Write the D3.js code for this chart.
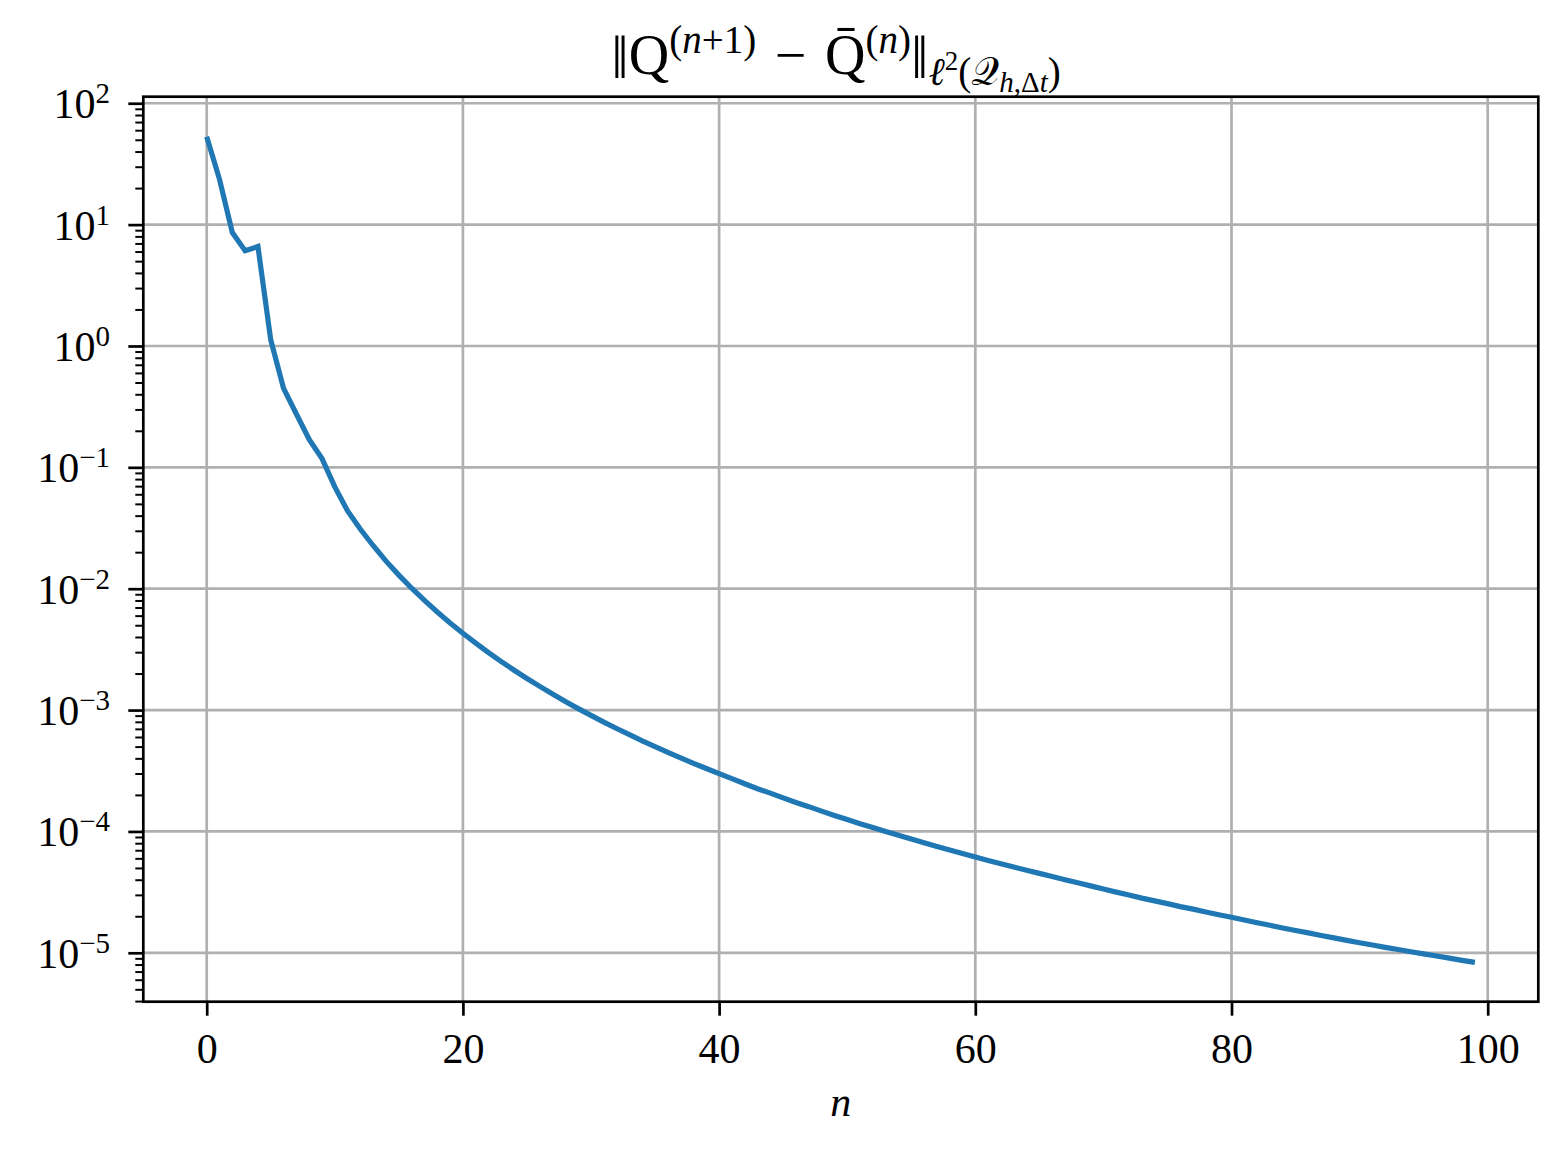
<!DOCTYPE html>
<html>
<head>
<meta charset="utf-8">
<script src="https://cdn.jsdelivr.net/npm/d3@7"></script>
<style>
  html, body { margin: 0; padding: 0; background: #ffffff; }
  svg { display: block; }
</style>
</head>
<body>
<svg id="chart" width="1568" height="1153"></svg>
<script>
// ---------------- data ----------------
const residuals = [
  53, 23.6, 8.6, 6.1, 6.6, 1.12, 0.447, 0.275, 0.17, 0.118,
  0.069, 0.0437, 0.0309, 0.0226, 0.01687, 0.01294, 0.01009, 8.00e-3, 6.43e-3, 5.22e-3,
  4.29e-3, 3.56e-3, 2.97e-3, 2.506e-3, 2.128e-3, 1.82e-3, 1.567e-3, 1.355e-3, 1.178e-3, 1.028e-3,
  9.04e-4, 7.96e-4, 7.05e-4, 6.27e-4, 5.58e-4, 5.00e-4, 4.49e-4, 4.04e-4, 3.64e-4, 3.30e-4,
  2.99e-4, 2.72e-4, 2.47e-4, 2.25e-4, 2.07e-4, 1.89e-4, 1.73e-4, 1.60e-4, 1.47e-4, 1.355e-4,
  1.253e-4, 1.159e-4, 1.076e-4, 9.98e-5, 9.29e-5, 8.65e-5, 8.05e-5, 7.52e-5, 7.03e-5, 6.58e-5,
  6.15e-5, 5.77e-5, 5.42e-5, 5.09e-5, 4.79e-5, 4.51e-5, 4.25e-5, 4.00e-5, 3.78e-5, 3.56e-5,
  3.35e-5, 3.16e-5, 2.99e-5, 2.82e-5, 2.68e-5, 2.54e-5, 2.40e-5, 2.29e-5, 2.17e-5, 2.06e-5,
  1.96e-5, 1.862e-5, 1.77e-5, 1.687e-5, 1.603e-5, 1.528e-5, 1.459e-5, 1.39e-5, 1.327e-5, 1.265e-5,
  1.211e-5, 1.159e-5, 1.109e-5, 1.064e-5, 1.021e-5, 9.79e-6, 9.40e-6, 9.04e-6, 8.67e-6, 8.34e-6
];
const xTicks = [0, 20, 40, 60, 80, 100];
const yTickExponents = [-5, -4, -3, -2, -1, 0, 1, 2];
const xLimits = [-4.95, 103.95];
const yLimits = [Math.pow(10, -5.403), Math.pow(10, 2.054)];
const titleParts = [
  { t: "‖", level: "delim" }, { t: "Q", level: "main" },
  { t: "(", level: "sup" }, { t: "n", level: "sup", italic: true }, { t: "+1)", level: "sup" },
  { t: "\u2004−\u2004Q\u0304", level: "main" },
  { t: "(", level: "sup" }, { t: "n", level: "sup", italic: true }, { t: ")", level: "sup" },
  { t: "‖", level: "delim" },
  { t: "ℓ", level: "sub", italic: true },
  { t: "2", level: "subsup" },
  { t: "(", level: "sub" }, { t: "𝒬", level: "sub" },
  { t: "h", level: "subsub", italic: true }, { t: ",", level: "subsub" }, { t: "Δ", level: "subsub" }, { t: "t", level: "subsub", italic: true },
  { t: ")", level: "sub" }
];
const xLabel = "n";

// ---------------- layout ----------------
const W = 1568, H = 1153;
const plot = { left: 143.3, right: 1538.3, top: 96.7, bottom: 1001.7 };
const serif = "'Liberation Serif', 'DejaVu Serif', serif";
const tickFont = 42;
const lineColor = "#1f77b4";
const gridColor = "#b0b0b0";

const svg = d3.select("#chart");
svg.append("rect").attr("width", W).attr("height", H).attr("fill", "#fff");

const x = d3.scaleLinear().domain(xLimits).range([plot.left, plot.right]);
const y = d3.scaleLog().domain(yLimits).range([plot.bottom, plot.top]);

const yMajor = yTickExponents.map(e => Math.pow(10, e));
const yMinor = [];
for (let e = -6; e <= 2; e++) {
  for (let m = 2; m <= 9; m++) {
    const v = m * Math.pow(10, e);
    if (v >= yLimits[0] && v <= yLimits[1]) yMinor.push(v);
  }
}

// grid
const grid = svg.append("g");
grid.selectAll("line.gx").data(xTicks).join("line")
  .attr("x1", d => x(d)).attr("x2", d => x(d))
  .attr("y1", plot.top).attr("y2", plot.bottom)
  .attr("stroke", gridColor).attr("stroke-width", 2.7);
grid.selectAll("line.gy").data(yMajor).join("line")
  .attr("x1", plot.left).attr("x2", plot.right)
  .attr("y1", d => y(d)).attr("y2", d => y(d))
  .attr("stroke", gridColor).attr("stroke-width", 2.7);

// data line
const clipId = "plotclip";
svg.append("clipPath").attr("id", clipId).append("rect")
  .attr("x", plot.left).attr("y", plot.top)
  .attr("width", plot.right - plot.left).attr("height", plot.bottom - plot.top);
const line = d3.line().x((d, i) => x(i)).y(d => y(d));
svg.append("path").datum(residuals)
  .attr("d", line)
  .attr("fill", "none")
  .attr("stroke", lineColor)
  .attr("stroke-width", 5.2)
  .attr("stroke-linejoin", "miter")
  .attr("stroke-linecap", "butt")
  .attr("clip-path", `url(#${clipId})`);

// x axis
const xAxis = d3.axisBottom(x).tickValues(xTicks).tickSize(14).tickPadding(0).tickFormat(d3.format("d"));
const gx = svg.append("g").attr("transform", `translate(0,${plot.bottom})`).call(xAxis);
gx.select(".domain").remove();
gx.selectAll(".tick line").attr("stroke", "#000").attr("stroke-width", 2.7);
gx.selectAll(".tick text")
  .attr("y", 61).attr("dy", null)
  .style("font-family", serif).style("font-size", tickFont + "px").attr("fill", "#000");

// y axis major
const yAxis = d3.axisLeft(y).tickValues(yMajor).tickSize(15).tickFormat(() => "");
const gy = svg.append("g").attr("transform", `translate(${plot.left},0)`).call(yAxis);
gy.select(".domain").remove();
gy.selectAll(".tick line").attr("stroke", "#000").attr("stroke-width", 2.7);
gy.selectAll(".tick text").remove();
// y axis minor
const yAxisMinor = d3.axisLeft(y).tickValues(yMinor).tickSize(8).tickFormat(() => "");
const gym = svg.append("g").attr("transform", `translate(${plot.left},0)`).call(yAxisMinor);
gym.select(".domain").remove();
gym.selectAll(".tick line").attr("stroke", "#000").attr("stroke-width", 2);
gym.selectAll(".tick text").remove();

// y tick labels 10^k
const yl = svg.append("g");
yTickExponents.forEach(e => {
  const t = yl.append("text")
    .attr("x", 110).attr("y", y(Math.pow(10, e)) + 15)
    .attr("text-anchor", "end")
    .style("font-family", serif).style("font-size", tickFont + "px").attr("fill", "#000");
  t.append("tspan").text("10");
  t.append("tspan").attr("dy", -15).style("font-size", "29px")
    .text(e < 0 ? "−" + Math.abs(e) : String(e));
});

// spines
svg.append("rect")
  .attr("x", plot.left).attr("y", plot.top)
  .attr("width", plot.right - plot.left).attr("height", plot.bottom - plot.top)
  .attr("fill", "none").attr("stroke", "#000").attr("stroke-width", 2.7);

// x label
svg.append("text")
  .attr("x", (plot.left + plot.right) / 2).attr("y", 1116)
  .attr("text-anchor", "middle")
  .style("font-family", serif).style("font-size", tickFont + "px").style("font-style", "italic")
  .text(xLabel);

// title (math-like, built from tspans)
const levelSize = { delim: 62, main: 56, sup: 39, sub: 39, subsup: 27, subsub: 29 };
const levelShift = { delim: 4, main: 0, sup: -21, sub: 11, subsup: -4, subsub: 18 };
const title = svg.append("text")
  .attr("x", 836).attr("y", 74)
  .attr("text-anchor", "middle")
  .style("font-family", serif).attr("fill", "#000");
let prevShift = 0;
titleParts.forEach(p => {
  const shift = levelShift[p.level];
  title.append("tspan")
    .attr("dy", shift - prevShift)
    .style("font-size", levelSize[p.level] + "px")
    .style("font-style", p.italic ? "italic" : "normal")
    .text(p.t);
  prevShift = shift;
});
</script>
</body>
</html>
